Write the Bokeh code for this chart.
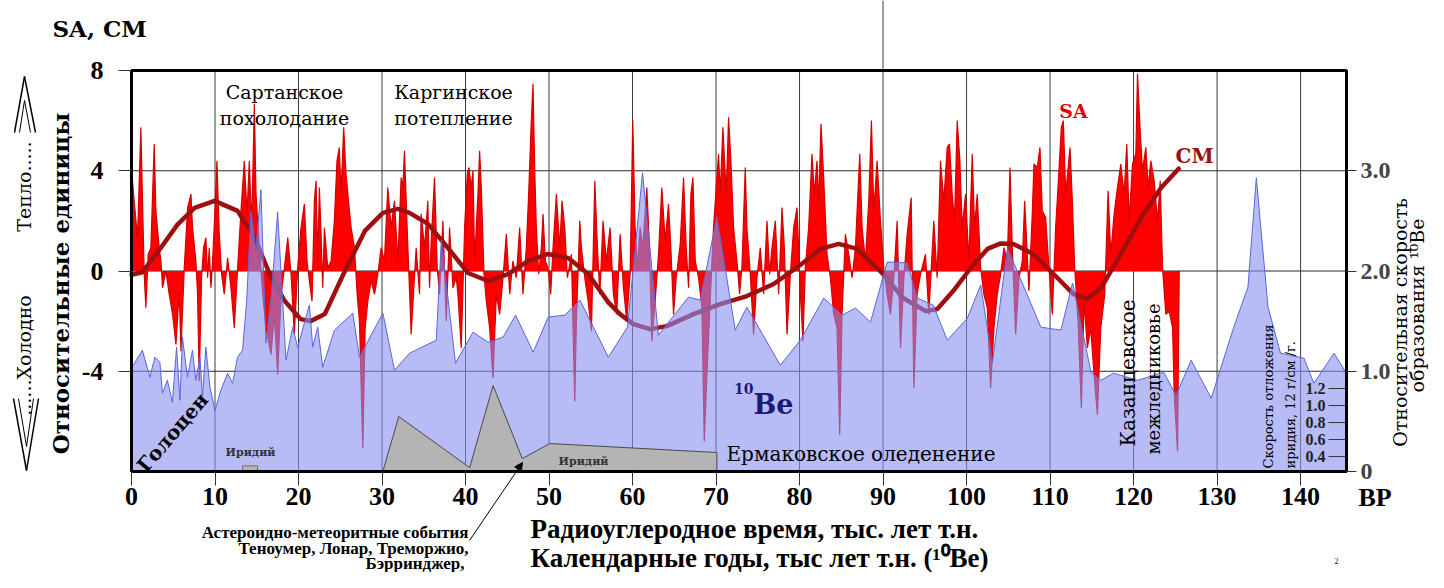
from bokeh.plotting import figure
from bokeh.models import (Range1d, LinearAxis, FixedTicker, Label, Arrow,
                          NormalHead, PrintfTickFormatter)
from bokeh.core.properties import value
from bokeh.embed import file_html
from bokeh.resources import INLINE
import math

# ------------------------------------------------------------------ data
# SA (red spiky series), x in thousand years BP
sa_x = [0.00, 0.12, 0.32, 0.72, 1.12, 1.52, 1.72, 2.00, 2.32, 2.72,
        2.92, 3.32, 3.52, 3.72, 4.12, 4.52, 4.92, 5.32, 5.72, 5.92,
        6.32, 6.72, 7.12, 7.31, 7.71, 7.91, 8.11, 8.39, 8.63, 8.91,
        9.11, 9.31, 9.51, 9.71, 9.99, 10.23, 10.51, 10.79, 11.11, 11.51,
        11.91, 12.31, 12.71, 13.11, 13.51, 13.83, 14.11, 14.39, 14.71, 14.91,
        15.31, 15.71, 16.11, 16.71, 17.11, 17.51, 17.91, 18.31, 18.71, 19.11,
        19.50, 19.90, 20.30, 20.70, 21.02, 21.30, 21.62, 21.90, 22.10, 22.30,
        22.50, 22.70, 22.90, 23.10, 23.50, 23.90, 24.29, 24.61, 24.89, 25.09,
        25.41, 25.69, 25.98, 26.30, 26.70, 27.02, 27.30, 27.70, 27.98, 28.30,
        28.70, 29.10, 29.50, 29.89, 30.29, 30.69, 31.09, 31.49, 31.89, 32.29,
        32.49, 32.69, 33.01, 33.49, 33.81, 34.09, 34.49, 34.69, 35.09, 35.49,
        35.69, 35.89, 36.29, 36.61, 36.89, 37.29, 37.69, 38.09, 38.49, 38.89,
        39.09, 39.49, 39.89, 40.21, 40.41, 40.69, 40.89, 41.09, 41.49, 41.69,
        41.89, 42.21, 42.49, 42.89, 43.29, 43.69, 44.09, 44.49, 44.89, 45.29,
        45.68, 46.08, 46.48, 46.88, 47.28, 47.56, 47.88, 48.08, 48.28, 48.48,
        48.76, 49.08, 49.28, 49.56, 49.88, 50.20, 50.48, 50.88, 51.28, 51.56,
        51.88, 52.20, 52.68, 53.08, 53.28, 53.68, 53.88, 54.28, 54.68, 55.08,
        55.48, 55.80, 56.08, 56.47, 56.87, 57.31, 57.71, 58.11, 58.51, 58.91,
        59.31, 59.71, 60.03, 60.31, 60.59, 60.91, 61.23, 61.71, 62.03, 62.31,
        62.71, 63.11, 63.51, 63.91, 64.31, 64.59, 64.91, 65.23, 65.71, 66.11,
        66.43, 66.71, 66.99, 67.23, 67.51, 67.91, 68.31, 68.59, 68.91, 69.30,
        69.70, 70.02, 70.30, 70.50, 70.82, 71.22, 71.50, 71.78, 72.10, 72.50,
        72.82, 73.10, 73.50, 73.70, 74.10, 74.50, 74.90, 75.30, 75.70, 76.10,
        76.42, 76.70, 77.10, 77.50, 77.90, 78.18, 78.50, 78.90, 79.30, 79.70,
        80.10, 80.41, 80.69, 81.09, 81.49, 81.77, 82.09, 82.29, 82.57, 82.89,
        83.29, 83.69, 84.09, 84.49, 84.81, 85.09, 85.49, 85.89, 86.29, 86.69,
        87.21, 87.49, 87.89, 88.29, 88.61, 88.89, 89.29, 89.69, 90.09, 90.49,
        90.89, 91.29, 91.69, 92.09, 92.49, 92.89, 93.37, 93.69, 94.08, 94.48,
        95.08, 95.48, 96.08, 96.48, 96.88, 97.28, 97.68, 97.96, 98.28, 98.56,
        98.88, 99.20, 99.48, 99.88, 100.28, 100.68, 100.96, 101.28, 101.68, 102.08,
        102.48, 102.88, 103.28, 103.68, 104.08, 104.48, 104.88, 105.20, 105.48, 105.88,
        106.28, 106.68, 106.96, 107.27, 107.47, 107.87, 108.07, 108.47, 108.79, 109.07,
        109.47, 109.87, 110.27, 110.67, 110.95, 111.35, 111.59, 111.87, 112.39, 112.67,
        112.95, 113.35, 113.75, 114.07, 114.47, 114.87, 115.27, 115.67, 116.07, 116.55,
        116.95, 117.27, 117.67, 118.07, 118.47, 118.87, 119.19, 119.47, 119.87, 120.27,
        120.47, 120.79, 121.07, 121.47, 121.75, 122.07, 122.47, 122.87, 123.19, 123.47,
        123.87, 124.27, 124.67, 124.87, 125.27, 125.47]
sa_v = [2.0, 3.6, 2.8, 1.33, 5.73, -0.13, -1.47, 0.67, 0.93, 5.07,
        2.4, 0.93, 0.4, -0.67, 0.0, -0.93, -1.73, -2.93, -0.8, -3.2,
        0.13, 2.53, 3.07, 1.73, 0.4, -0.93, -4.4, -0.27, 0.93, 1.33,
        -0.27, 0.93, -0.67, 0.4, 2.4, 4.4, 1.47, -0.13, -0.93, 0.53,
        -0.67, -2.27, 0.13, 2.4, 4.4, 2.27, 4.4, 1.73, 6.67, 3.07,
        0.93, -0.93, -2.27, -3.33, -1.73, -4.13, -0.93, 0.13, 1.33, -0.13,
        -2.53, 0.13, 1.73, 2.67, 0.4, -0.4, -1.2, 2.8, 3.6, 0.4,
        3.33, 1.47, -0.67, 1.73, 0.13, 0.4, 2.0, 4.4, 4.93, 3.07,
        5.73, 3.87, 2.8, 1.73, 0.93, -0.93, -2.0, -7.07, -2.27, -1.2,
        -0.4, -0.93, -0.13, 0.93, 0.4, 3.33, 1.73, 2.8, 0.4, 3.73,
        3.33, 4.8, 1.73, -2.53, -0.67, 0.93, -0.93, 2.27, 0.93, 2.8,
        -0.67, 1.2, 3.73, 0.13, -0.93, 2.0, -2.0, 1.73, -0.67, -0.27,
        -0.93, -3.07, 1.73, 3.87, 4.13, 3.33, 4.0, 0.4, 3.07, 4.8,
        3.33, -0.13, -1.2, -2.27, -4.27, -0.93, -1.73, -0.27, 1.47, -0.93,
        0.4, -0.27, 1.73, -0.93, 0.93, 3.07, 6.0, 7.47, 4.13, 1.73,
        -0.13, 0.93, 2.27, 0.4, 0.13, -0.93, 0.93, 3.07, 0.93, 2.8,
        1.73, -0.27, 0.67, -5.2, -2.0, 2.0, 0.93, -0.27, -1.2, -2.4,
        3.6, 0.93, -0.93, 2.0, 0.4, 1.73, -0.93, -1.73, 1.47, -0.67,
        -2.0, -0.13, 6.0, 1.73, 0.13, 1.73, 0.93, 3.33, 0.93, -2.8,
        -1.2, 0.67, 3.33, 1.2, 2.67, 0.93, -1.73, -0.27, 1.07, 3.73,
        0.93, -0.67, 3.07, 3.73, 0.4, -0.27, -1.47, -6.8, -4.13, -1.2,
        1.73, 3.33, 4.67, 3.07, 5.73, 3.07, 6.13, 4.4, 1.73, 0.4,
        -0.93, 0.13, 4.13, 1.73, -0.13, -2.53, -0.27, 0.93, -0.93, 2.0,
        -0.13, 0.93, 2.0, -0.93, 2.53, 0.93, -2.53, -0.13, 1.73, 2.53,
        -0.93, -2.8, 0.13, 1.73, 4.67, 3.07, 4.4, 2.67, 5.87, 3.73,
        0.67, -0.27, -1.73, -2.27, -6.53, -1.73, 1.47, 0.67, -0.27, 0.93,
        4.67, 1.73, 0.4, 2.8, 6.0, 2.4, 4.4, 2.0, 0.13, -0.93,
        -1.73, -0.27, 2.0, -3.07, -0.27, 1.47, 2.93, -4.67, -0.93, -0.13,
        0.67, -1.73, 2.0, -0.27, 4.4, 2.8, 4.93, 5.07, 3.07, 2.0,
        6.0, 4.4, 1.73, 3.07, 0.4, 4.67, 1.73, 3.07, 0.13, -0.93,
        -1.47, -4.67, -2.27, -0.93, -0.13, 0.93, 0.4, 4.13, 0.93, -2.53,
        -0.27, 0.4, 2.8, 0.67, -0.8, 2.27, 4.27, 4.13, 4.93, 2.4,
        2.13, 0.13, -1.73, 1.73, 3.33, 5.73, 6.0, 3.07, 4.93, 2.8,
        0.13, -2.0, -5.47, -1.2, -3.07, -2.27, -4.13, -5.73, -2.27, -0.93,
        3.2, 0.67, 2.27, 3.33, 4.27, 3.07, 5.07, 2.0, 4.27, 4.67,
        7.87, 5.6, 4.0, 4.93, 3.33, 4.4, 3.6, 2.0, 3.6, 0.13,
        -1.73, -1.6, -2.27, -4.93, -7.2, 0.0]

# CM (smoothed curve)
cm_x = [0.0, 1.3, 3.5, 5.5, 7.55, 9.95, 12.7, 14.75, 16.55, 18.35,
        20.25, 21.45, 23.15, 25.55, 27.95, 30.1, 31.9, 33.3, 35.5, 37.9,
        40.3, 42.7, 45.1, 47.5, 49.9, 52.3, 54.7, 57.1, 58.5, 60.1,
        62.1, 64.1, 67.3, 70.5, 73.7, 76.9, 80.1, 82.5, 84.7, 86.9,
        90.0, 92.4, 95.1, 96.5, 98.4, 100.5, 102.5, 104.1, 105.6, 108.0,
        110.9, 112.8, 114.5, 116.1, 118.5, 120.9, 123.3, 125.4]
cm_v = [-0.15, -0.05, 0.92, 1.85, 2.52, 2.8, 2.4, 1.32, -0.12, -1.2,
        -1.92, -2.0, -1.72, 0.0, 1.6, 2.32, 2.48, 2.32, 1.88, 0.92,
        -0.08, -0.4, -0.12, 0.4, 0.68, 0.52, -0.12, -1.25, -1.72, -2.12,
        -2.32, -2.2, -1.72, -1.32, -1.0, -0.52, 0.24, 0.88, 1.08, 0.88,
        -0.12, -1.08, -1.6, -1.52, -0.8, 0.12, 0.88, 1.1, 1.08, 0.68,
        -0.28, -0.92, -1.12, -0.68, 0.68, 2.12, 3.32, 4.08]

# 10Be relative production rate (right axis)
be_x = [0.0, 1.3, 2.2, 2.8, 3.4, 3.7, 4.3, 4.9, 5.4, 5.8,
        6.1, 6.7, 7.3, 7.7, 8.2, 8.5, 8.9, 9.4, 10.0, 10.7,
        11.5, 12.1, 12.7, 13.3, 13.8, 14.3, 14.9, 15.5, 16.1, 16.8,
        17.5, 18.5, 19.3, 19.9, 21.3, 21.7, 22.3, 22.9, 24.3, 26.5,
        27.3, 30.1, 31.5, 33.3, 36.5, 37.1, 38.8, 40.9, 42.7, 44.5,
        46.0, 48.1, 49.9, 51.9, 53.7, 57.1, 59.4, 61.2, 63.1, 66.7,
        68.1, 70.1, 72.3, 73.7, 77.7, 80.1, 82.9, 85.1, 86.7, 88.5,
        90.5, 92.9, 94.1, 96.0, 97.7, 100.1, 101.7, 103.1, 104.9, 108.9,
        111.3, 112.7, 114.9, 116.1, 117.6, 120.5, 123.6, 125.1, 126.9, 129.3,
        132.0, 133.7, 134.7, 136.1, 137.6, 140.4, 141.6, 144.0, 145.5]
be_v = [1.03, 1.21, 0.94, 1.14, 1.09, 0.78, 0.91, 0.69, 1.24, 0.71,
        1.34, 0.94, 1.21, 0.91, 1.14, 0.74, 1.24, 0.84, 0.61, 0.81,
        0.98, 0.88, 1.14, 1.21, 1.71, 2.60, 2.21, 2.81, 1.28, 1.81,
        2.59, 1.11, 1.44, 1.24, 1.66, 1.24, 1.44, 1.04, 1.41, 1.58,
        1.14, 1.58, 1.01, 1.18, 1.31, 2.31, 1.08, 1.39, 1.29, 1.34,
        1.56, 1.19, 1.54, 1.56, 1.71, 1.14, 1.44, 2.98, 1.36, 1.74,
        1.71, 2.54, 1.41, 1.64, 1.06, 1.31, 1.73, 1.56, 1.63, 1.49,
        2.09, 2.08, 1.73, 1.66, 1.31, 1.53, 1.86, 1.09, 2.23, 1.44,
        1.41, 1.88, 0.99, 0.91, 0.98, 0.91, 0.99, 0.76, 1.11, 0.73,
        1.44, 1.84, 2.93, 1.64, 1.18, 1.13, 0.88, 1.18, 0.98]

# Iridium deposition rate (inner scale)
ir_x = [30.1, 32.0, 40.5, 43.3, 46.8, 50.1, 70.1]
ir_v = [0.224, 0.87, 0.27, 1.235, 0.376, 0.553, 0.447]
ir_mark_x = [13.3, 15.1]
ir_mark_v = 0.29

x_ticks = list(range(0, 150, 10))
y_ticks = [-4, 0, 4, 8]
be_ticks = [0, 1, 2, 3]
ir_ticks = [0.4, 0.6, 0.8, 1.0, 1.2]
ir_tick_labels = ["0.4", "0.6", "0.8", "1.0", "1.2"]

# ------------------------------------------------------------------ geometry
W, H = 1428, 572
BOX_L, BOX_R, BOX_T, BOX_B = 131, 1346, 70, 471     # plot box in pixels
X0, X1 = 0.0, 145.5          # x limits of the chart box
Y0, Y1 = -8.0, 8.0           # left scale limits
B0, B1 = 0.0, 4.0            # right (10Be) scale limits
I0, I1 = 0.224, 4.94         # iridium scale limits


def ext(lo, hi, a0, a1, n):
    """Extend limits [lo, hi] drawn on pixels a0..a1 to the whole span 0..n."""
    k = (hi - lo) / (a1 - a0)
    return lo - a0 * k, hi + (n - a1) * k


xr = ext(X0, X1, BOX_L, BOX_R, W)
yr = ext(Y0, Y1, H - BOX_B, H - BOX_T, H)
br = ext(B0, B1, H - BOX_B, H - BOX_T, H)
ir = ext(I0, I1, H - BOX_B, H - BOX_T, H)

SERIF = "DejaVu Serif"
NUM = "Liberation Serif"

p = figure(width=W, height=H, output_backend="svg", toolbar_location=None,
           x_range=Range1d(*xr), y_range=Range1d(*yr),
           min_border=0, min_border_left=0, min_border_right=0,
           min_border_top=0, min_border_bottom=0)
p.title.visible = False
p.extra_y_ranges = {"be": Range1d(*br), "ir": Range1d(*ir)}
p.background_fill_color = "white"
p.border_fill_color = "white"
p.outline_line_color = None
p.xgrid.visible = False
p.ygrid.visible = False

# axes, pinned to the edges of the chart box
for ax in (p.xaxis[0], p.yaxis[0]):
    ax.axis_line_color = None
    ax.minor_tick_line_color = None
    ax.major_tick_in = 0
    ax.major_tick_line_color = "#333333"
    ax.major_label_text_font = NUM
    ax.major_label_text_font_style = "bold"
    ax.major_label_text_font_size = "26px"
    ax.major_label_text_color = "black"
p.xaxis.ticker = FixedTicker(ticks=x_ticks)
p.xaxis.fixed_location = Y0
p.xaxis.major_tick_out = 14
p.xaxis.major_label_standoff = 2
p.yaxis.ticker = FixedTicker(ticks=y_ticks)
p.yaxis.fixed_location = X0
p.yaxis.major_tick_out = 13
p.yaxis.major_label_standoff = 15
p.yaxis.major_label_overrides = {-4: "-4"}

rax = LinearAxis(y_range_name="be", ticker=FixedTicker(ticks=be_ticks),
                 formatter=PrintfTickFormatter(format="%.1f"), fixed_location=X1)
rax.major_label_overrides = {0: "0"}
rax.axis_line_color = None
rax.minor_tick_line_color = None
rax.major_tick_in = 0
rax.major_tick_out = 10
rax.major_tick_line_color = "#333333"
rax.major_label_standoff = 4
rax.major_label_text_font = NUM
rax.major_label_text_font_style = "bold"
rax.major_label_text_font_size = "24px"
p.add_layout(rax, "right")

# grid lines inside the chart box
p.segment(x0=x_ticks, x1=x_ticks, y0=[Y0] * len(x_ticks), y1=[Y1] * len(x_ticks),
          line_color="#3c3c3c", line_width=1)
p.segment(x0=[X0] * 3, x1=[X1] * 3, y0=y_ticks[:3], y1=y_ticks[:3],
          line_color="#2a2a2a", line_width=1)
p.segment(x0=[90], x1=[90], y0=[Y1], y1=[yr[1]], line_color="#3c3c3c", line_width=1)

# series
p.varea(x=sa_x, y1=0, y2=sa_v, fill_color="#ff0000")
p.line(sa_x, sa_v, line_color="#d40000", line_width=1.2)
p.line(cm_x, cm_v, line_color="#9e1010", line_width=4.5, line_join="round", line_cap="round")
p.varea(x=be_x, y1=0, y2=be_v, y_range_name="be", fill_color="#878ef0", fill_alpha=0.6)
p.line(be_x, be_v, y_range_name="be", line_color="#5b66d6", line_width=1)
p.patch(x=ir_x + [ir_x[-1]], y=ir_v + [I0], y_range_name="ir",
        fill_color="#b4b4b4", line_color="#4a4a4a", line_width=1)
p.quad(left=[ir_mark_x[0]], right=[ir_mark_x[1]], bottom=[I0], top=[ir_mark_v],
       y_range_name="ir", fill_color="#b4b4b4", line_color="#707070", line_width=1)

# inner iridium scale
p.segment(x0=[143.35] * len(ir_ticks), x1=[X1] * len(ir_ticks), y0=ir_ticks, y1=ir_ticks,
          y_range_name="ir", line_color="#333333", line_width=1)
p.text(x=[143.0] * len(ir_ticks), y=ir_ticks, text=ir_tick_labels, y_range_name="ir",
       text_font=value(NUM), text_font_style="bold", text_font_size="16px",
       text_align="right", text_baseline="middle", text_color="#222222")

# chart box frame
p.quad(left=[X0], right=[X1], bottom=[Y0], top=[Y1], fill_color=None,
       line_color="black", line_width=3)

# ------------------------------------------------------------------ annotations
def X(px):
    return xr[0] + px * (xr[1] - xr[0]) / W


def Y(py):
    return yr[1] - py * (yr[1] - yr[0]) / H


def lab(px, py, text, size, font=SERIF, style="normal", color="black",
        align="center", baseline="middle", angle=0.0):
    p.add_layout(Label(x=X(px), y=Y(py), text=text, text_font=font,
                       text_font_size=size, text_font_style=style,
                       text_color=color, text_align=align,
                       text_baseline=baseline, angle=angle))


def seg(pts, width=1.5, color="black"):
    for (x0, y0), (x1, y1) in zip(pts[:-1], pts[1:]):
        p.add_layout(Arrow(x_start=X(x0), y_start=Y(y0), x_end=X(x1), y_end=Y(y1),
                           start=None, end=None, line_color=color, line_width=width))


lab(52, 28, "SA, CM", "23px", style="bold", align="left")
lab(284, 91, "Сартанское", "19px")
lab(284, 117, "похолодание", "19px")
lab(453, 91, "Каргинское", "19px")
lab(453, 117, "потепление", "19px")
lab(1073, 110, "SA", "19px", style="bold", color="#e00000")
lab(1194, 155, "CM", "20px", style="bold", color="#9a1010")
lab(753, 404, "Be", "27px", style="bold", color="#1c1c78", align="left")
lab(753, 388, "10", "14px", style="bold", color="#1c1c78", align="right")
lab(726, 453, "Ермаковское оледенение", "20px", align="left")
lab(172, 432, "Голоцен", "20px", style="bold", angle=0.86)
lab(250, 452, "Иридий", "11px", style="bold", color="#333333")
lab(583, 461, "Иридий", "11px", style="bold", color="#333333")
lab(1127, 446, "Казанцевское", "20px", align="left", angle=math.pi / 2)
lab(1153, 454, "межледниковье", "18px", align="left", angle=math.pi / 2)
lab(1268, 468, "Скорость отложения", "13px", align="left", angle=math.pi / 2)
lab(1290, 468, "иридия, 12 г/см /г.", "13px", align="left", angle=math.pi / 2)

# left side
lab(60, 283, "Относительные единицы", "23px", style="bold", angle=math.pi / 2)
lab(23, 186, "Тепло.....", "19px", angle=math.pi / 2)
lab(23, 355, "......Холодно", "19px", angle=math.pi / 2)
seg([(14, 132), (24, 76), (35, 132)])
seg([(19, 132), (24, 100), (30, 132)], width=1)
seg([(13, 398), (26, 470), (38, 398)])
seg([(18, 398), (26, 446), (33, 398)], width=1)

# right side
lab(1399, 322, "Относительная скорость", "19px", angle=math.pi / 2)
lab(1416, 305, "образования ¹⁰Be", "19px", angle=math.pi / 2)

# bottom
lab(1358, 497, "BP", "26px", font=NUM, style="bold", align="left")
lab(530, 528, "Радиоуглеродное время, тыс. лет т.н.", "27px", font=NUM, style="bold", align="left")
lab(530, 557, "Календарные годы, тыс лет т.н. (¹⁰Be)", "27px", font=NUM, style="bold", align="left")
lab(468, 532, "Астероидно-метеоритные события", "17px", font=NUM, style="bold", align="right")
lab(468, 548, "Теноумер, Лонар, Треморжио,", "17px", font=NUM, style="bold", align="right")
lab(464, 563, "Бэрринджер,", "17px", font=NUM, style="bold", align="right")
lab(1336, 560, "2", "8px", font=NUM)
p.add_layout(Arrow(x_start=X(469), y_start=Y(540), x_end=X(522), y_end=Y(462),
                   line_color="black", line_width=1,
                   end=NormalHead(size=8, fill_color="black", line_color="black")))

open("out.html", "w").write(file_html(p, INLINE))
